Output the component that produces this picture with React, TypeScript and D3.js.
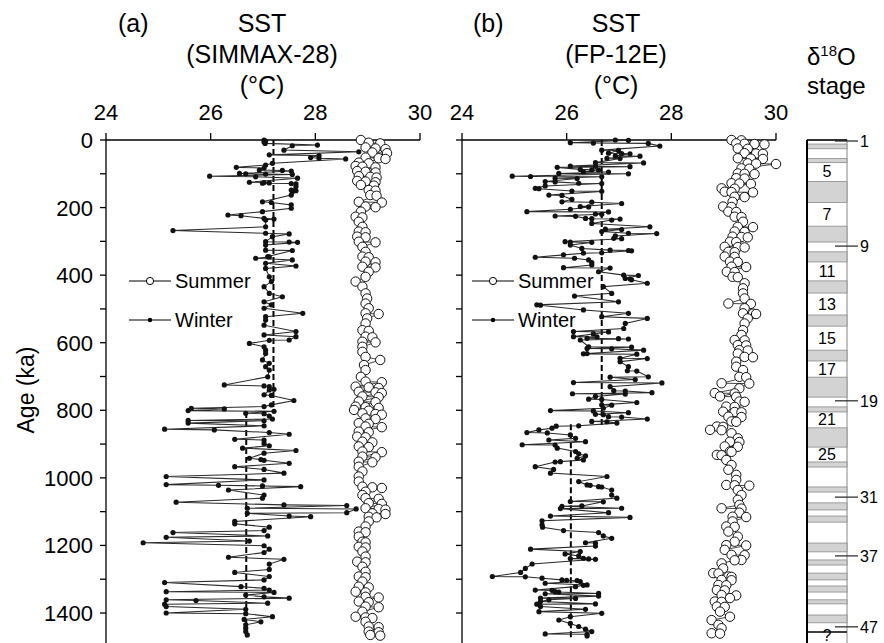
import React from "react";
import * as d3 from "d3";

// ---------- DATA (age ka, SST °C) ----------
const winterA: [number, number][] = [
  [0,27.02],[3,27.05],[6,27.02],[10,27.04],[15,28.04],[17,27.56],[30,27.40],[35,28.83],[44,27.12],[46,28.07],[52,27.91],[54,28.07],[56,28.58],[69,27.18],[74,27.05],[81,26.49],[83,27.02],[89,26.93],[90,27.37],[92,27.54],[99,26.55],[100,26.67],[101,27.05],[102,27.56],[107,25.98],[109,26.86],[113,27.66],[125,26.74],[126,27.02],[127,27.12],[128,26.99],[129,27.54],[130,27.63],[138,27.63],[148,27.54],[150,27.63],[153,27.56],[163,27.54],[183,26.99],[185,27.16],[192,27.54],[202,27.54],[212,26.99],[222,26.33],[224,26.58],[232,27.02],[234,27.21],[237,27.05],[257,27.05],[268,25.28],[276,27.05],[278,27.50],[286,27.18],[301,27.05],[302,27.50],[303,27.66],[311,27.05],[326,27.05],[327,27.56],[345,27.09],[346,27.12],[350,26.86],[355,27.56],[365,27.05],[373,27.63],[380,27.05],[405,27.12],[419,27.16],[434,27.02],[454,27.12],[464,27.37],[479,27.02],[488,27.16],[498,27.02],[513,27.76],[523,27.05],[533,27.05],[548,27.02],[567,27.63],[577,27.02],[582,27.63],[592,27.50],[593,27.12],[602,26.74],[612,27.02],[622,27.05],[632,27.05],[651,26.99],[661,27.12],[671,27.05],[681,27.12],[701,27.09],
  [725,26.26],[728,27.02],[730,27.12],[738,27.21],[740,27.12],[754,27.02],[756,27.16],[771,27.59],[784,27.16],[789,27.02],[794,25.63],[796,26.26],[801,25.57],[803,27.21],[809,26.67],[810,27.02],[817,27.12],[826,27.18],[830,25.57],[831,27.02],[838,25.57],[846,27.02],[856,25.12],[858,26.07],[866,27.12],[871,27.50],[886,26.46],[888,27.02],[898,27.02],[905,27.12],[912,26.61],[919,27.63],[927,27.02],[942,26.74],[946,26.96],[948,27.02],[957,27.50],[967,26.46],[975,27.02],[986,27.40],[996,25.15],[1006,27.02],[1020,25.15],[1022,26.15],[1024,26.99],[1026,27.72],[1036,26.34],[1051,27.02],[1060,26.99],[1072,25.34],[1080,27.40],[1082,28.60],[1090,26.70],[1092,28.78],[1103,28.60],[1105,26.70],[1113,27.50],[1115,27.91],[1129,26.46],[1136,26.46],[1146,27.12],[1156,27.02],[1162,25.28],[1172,27.09],[1176,25.15],[1187,26.74],[1192,24.71],[1201,27.02],[1211,27.12],[1221,27.02],[1235,26.34],[1241,27.40],[1255,27.12],[1271,27.12],[1280,26.46],[1292,27.12],[1302,27.02],[1310,25.12],[1322,26.58],[1327,27.02],[1332,27.12],[1337,25.15],[1339,27.21],[1347,26.67],[1352,27.02],[1356,27.50],[1361,25.15],[1363,25.72],[1371,27.09],[1374,25.12],[1381,25.15],[1389,26.67],[1400,25.15],[1402,26.67],[1411,27.18],[1419,26.64],[1426,26.96],[1435,26.67],[1445,26.67],[1455,26.67],[1465,26.70]
];

const summerA: [number, number][] = [
  [0,28.87],[8,29.02],[10,29.24],[22,28.96],[25,29.15],[27,29.34],[37,29.09],[39,29.37],[52,28.96],[54,29.21],[56,29.34],[67,28.83],[69,29.02],[77,28.77],[79,28.90],[81,29.15],[92,28.80],[94,28.96],[96,29.15],[107,28.83],[109,29.05],[111,29.17],[121,28.80],[123,28.96],[125,29.15],[133,28.87],[135,29.12],[148,29.02],[150,29.15],[163,29.05],[165,29.17],[183,28.83],[185,29.27],[197,28.96],[199,29.15],[212,28.87],[227,28.77],[229,28.90],[242,28.83],[257,28.90],[271,28.83],[273,28.96],[286,28.80],[288,28.96],[301,28.83],[303,29.15],[316,28.90],[331,28.96],[345,28.90],[347,29.02],[360,28.96],[362,29.15],[375,28.90],[377,29.15],[390,29.02],[405,28.96],[419,28.77],[434,28.90],[454,28.96],[469,28.99],[484,28.96],[498,29.02],[513,28.96],[515,29.21],[528,28.99],[543,28.96],[563,28.90],[565,29.02],[582,28.96],[584,29.09],[597,28.90],[599,29.15],[612,28.90],[627,28.90],[642,28.96],[651,29.24],[666,28.93],[681,28.96],[701,28.87],
  [715,28.96],[717,29.27],[730,28.77],[732,29.02],[734,29.21],[745,28.83],[747,29.15],[749,29.27],[759,28.90],[761,29.21],[774,28.83],[776,29.15],[789,28.77],[791,28.96],[793,29.21],[799,28.74],[801,29.02],[809,28.90],[811,29.15],[813,29.27],[824,28.96],[826,29.15],[838,28.83],[840,29.02],[848,28.96],[850,29.27],[863,28.83],[865,29.02],[878,28.80],[880,28.96],[893,28.90],[895,29.09],[907,28.83],[909,29.02],[922,28.90],[924,29.27],[937,28.90],[939,29.15],[952,28.83],[954,29.09],[967,28.83],[981,28.90],[996,28.83],[1011,28.83],[1026,28.90],[1028,29.09],[1030,29.27],[1041,28.96],[1051,28.90],[1060,28.96],[1062,29.21],[1075,29.02],[1077,29.27],[1090,28.96],[1092,29.21],[1094,29.34],[1105,29.09],[1107,29.34],[1115,29.02],[1117,29.17],[1129,29.02],[1144,28.96],[1159,28.83],[1161,28.96],[1174,28.83],[1189,28.90],[1191,28.96],[1204,28.83],[1206,28.96],[1218,28.90],[1233,28.96],[1248,28.80],[1250,28.96],[1263,28.90],[1278,28.96],[1292,28.83],[1294,28.96],[1307,28.90],[1322,28.83],[1324,29.02],[1337,28.77],[1339,28.96],[1352,28.96],[1354,29.21],[1366,28.83],[1368,29.02],[1381,28.96],[1383,29.21],[1396,28.90],[1411,28.77],[1413,28.96],[1415,29.09],[1426,28.96],[1440,29.02],[1442,29.21],[1455,29.02],[1457,29.21],[1465,29.05],[1467,29.24]
];

const winterB: [number, number][] = [
  [0,26.93],[1,27.18],[8,26.07],[9,26.51],[10,27.56],[18,27.78],[30,26.67],[31,26.99],[39,26.80],[40,27.05],[41,27.21],[47,26.93],[48,27.40],[54,26.77],[55,27.02],[67,26.55],[68,27.47],[77,26.07],[78,26.55],[79,27.21],[81,25.82],[87,26.26],[88,26.48],[89,26.61],[94,26.32],[95,26.80],[99,25.85],[100,27.18],[107,24.96],[108,25.31],[109,26.67],[113,25.78],[114,26.20],[123,25.59],[124,25.78],[128,26.23],[129,26.67],[136,25.59],[143,25.40],[144,25.47],[151,26.10],[152,26.67],[163,25.66],[164,25.91],[176,26.10],[183,25.91],[184,26.48],[188,27.05],[197,26.26],[198,26.42],[205,26.07],[212,25.24],[213,26.80],[219,26.55],[220,26.67],[225,25.78],[226,26.17],[232,26.36],[233,26.48],[234,27.02],[237,26.86],[247,26.48],[257,27.59],[264,26.74],[265,27.05],[271,26.67],[276,27.18],[277,27.72],[284,26.93],[291,26.90],[292,27.05],[301,25.97],[302,26.07],[303,26.48],[311,26.07],[321,26.29],[326,26.83],[327,27.18],[328,27.24],[334,26.67],[335,26.32],[340,25.94],[347,25.40],[350,26.15],[355,26.42],[363,26.48],[370,26.48],[378,25.94],[379,26.83],[390,26.61],[400,27.09],[401,27.37],[410,27.12],[411,27.21],[414,27.24],[424,27.54],[434,26.70],[454,26.86],[462,26.15],[479,26.99],[488,25.43],[489,25.50],[503,26.32],[513,27.18],[523,26.67],[528,27.54],[543,27.12],[558,27.09],[567,26.13],[568,26.80],[574,26.51],[582,26.13],[583,26.58],[587,26.39],[588,26.99],[589,27.18],[592,26.26],[612,26.42],[613,27.24],[617,26.39],[618,26.86],[622,27.47],[632,26.39],[633,26.32],[634,27.34],[646,27.02],[647,27.54],[656,27.02],[671,27.18],[683,27.16],[684,27.34],[701,27.56],[702,26.83],[709,27.31],
  [718,26.13],[719,27.82],[730,26.83],[742,26.90],[743,27.12],[748,27.63],[751,26.11],[752,27.12],[759,26.55],[767,26.42],[768,26.67],[777,27.34],[784,26.67],[785,26.86],[794,26.70],[801,25.69],[802,26.51],[807,27.18],[812,26.55],[813,26.70],[819,26.80],[820,27.05],[826,27.54],[833,26.48],[834,26.77],[838,26.96],[846,26.23],[847,25.80],[853,25.72],[858,25.47],[866,25.24],[867,25.63],[873,26.07],[883,26.17],[888,25.66],[893,26.36],[902,25.15],[903,25.78],[912,25.82],[922,26.17],[929,26.23],[935,26.36],[942,26.20],[947,26.32],[952,25.88],[953,25.78],[967,25.40],[975,25.75],[986,25.69],[996,26.77],[1011,26.23],[1021,26.39],[1022,26.45],[1026,26.61],[1027,26.67],[1036,26.86],[1051,26.86],[1060,26.96],[1070,26.07],[1071,26.70],[1083,26.29],[1084,25.91],[1090,27.05],[1091,25.88],[1103,26.80],[1113,25.69],[1117,27.21],[1127,25.53],[1139,25.53],[1146,25.54],[1156,25.94],[1162,26.61],[1172,26.70],[1179,26.86],[1192,26.36],[1193,26.55],[1202,26.55],[1211,25.31],[1218,26.26],[1225,25.97],[1231,26.23],[1238,26.32],[1239,26.07],[1240,26.42],[1241,26.55],[1255,25.34],[1268,25.21],[1280,25.12],[1292,24.58],[1293,25.21],[1297,25.53],[1302,25.91],[1303,26.00],[1304,26.20],[1307,26.26],[1312,25.59],[1317,26.39],[1318,26.32],[1322,26.17],[1332,25.40],[1333,25.72],[1337,25.78],[1338,25.85],[1342,26.61],[1343,25.59],[1350,26.61],[1356,25.50],[1357,26.17],[1361,25.66],[1366,25.50],[1373,26.55],[1374,25.43],[1381,25.50],[1389,26.36],[1396,25.47],[1401,26.67],[1411,26.07],[1421,25.85],[1431,26.07],[1440,26.23],[1448,26.36],[1455,26.48],[1462,25.59],[1463,26.39],[1468,26.39]
];

const summerB: [number, number][] = [
  [0,29.15],[1,29.34],[10,29.24],[11,29.40],[12,29.59],[13,29.78],[25,29.27],[26,29.46],[39,29.40],[40,29.62],[41,29.75],[54,29.27],[55,29.52],[56,29.75],[69,29.46],[70,29.62],[71,30.0],[84,29.34],[85,29.49],[99,29.27],[100,29.40],[101,29.59],[113,29.24],[114,29.40],[128,29.15],[129,29.30],[130,29.52],[143,28.96],[144,29.21],[153,29.02],[154,29.15],[155,29.56],[168,29.21],[169,29.40],[183,29.17],[197,28.99],[198,29.15],[212,29.09],[213,29.24],[227,29.21],[228,29.34],[242,29.37],[257,29.27],[258,29.56],[271,29.21],[272,29.40],[286,29.17],[287,29.34],[288,29.46],[301,29.12],[302,29.24],[316,29.02],[317,29.27],[318,29.40],[331,29.09],[332,29.21],[345,29.02],[346,29.21],[360,29.12],[361,29.27],[375,29.15],[376,29.43],[390,29.06],[391,29.21],[405,29.17],[406,29.27],[424,29.40],[439,29.37],[454,29.37],[469,29.40],[484,29.09],[485,29.52],[498,29.40],[513,29.37],[514,29.56],[515,29.62],[528,29.46],[543,29.40],[563,29.37],[577,29.34],[592,29.21],[593,29.40],[607,29.27],[608,29.43],[622,29.30],[623,29.46],[632,29.27],[642,29.40],[643,29.56],[656,29.24],[671,29.24],[681,29.37],[701,29.30],[702,29.43],
  [720,28.96],[721,29.49],[735,29.30],[749,28.83],[750,29.21],[759,28.93],[760,29.24],[774,29.30],[775,29.40],[789,29.05],[790,29.21],[804,28.99],[805,29.21],[806,29.34],[819,29.09],[820,29.34],[833,29.15],[834,29.24],[848,28.87],[849,28.99],[858,28.74],[859,28.96],[868,29.15],[883,29.27],[893,29.12],[894,29.30],[907,29.02],[908,29.27],[922,29.12],[923,29.15],[932,28.87],[933,28.96],[947,29.05],[962,29.15],[976,29.09],[991,29.24],[1006,29.24],[1021,29.05],[1022,29.21],[1023,29.49],[1036,29.27],[1051,29.34],[1065,29.27],[1080,29.30],[1090,28.96],[1091,29.34],[1103,29.30],[1115,29.17],[1116,29.43],[1129,29.17],[1144,29.05],[1145,29.21],[1159,29.09],[1174,29.27],[1189,29.21],[1199,29.05],[1200,29.43],[1213,29.02],[1228,29.15],[1229,29.40],[1243,29.34],[1244,29.21],[1253,28.96],[1268,28.99],[1282,28.80],[1283,28.90],[1292,29.09],[1293,29.15],[1302,28.96],[1303,29.15],[1317,28.90],[1318,29.05],[1332,28.87],[1333,29.02],[1347,28.96],[1348,29.24],[1356,29.12],[1366,28.83],[1367,28.96],[1381,28.87],[1382,29.02],[1396,28.93],[1411,29.12],[1421,28.77],[1435,28.90],[1445,28.96],[1460,28.77],[1461,28.93]
];

// mean winter SST segments: [value, fromKa, toKa]
const meanA: [number, number, number][] = [[27.2, 0, 805], [26.68, 805, 1472]];
const meanB: [number, number, number][] = [[26.67, 0, 849], [26.08, 841, 1472]];

const xTicks = [24, 26, 28, 30];
const yTicks = d3.range(0, 1501, 100);
const yLabels = [0, 200, 400, 600, 800, 1000, 1200, 1400];

// glacial (grey) stage intervals in ka
const glacials: [number, number][] = [
  [12, 26], [55, 67], [123, 185], [255, 302], [331, 361], [417, 453], [518, 551], [622, 654], [702, 761],
  [790, 805], [852, 909], [953, 968], [1027, 1042], [1074, 1095], [1113, 1131], [1193, 1219], [1243, 1258],
  [1282, 1302], [1320, 1338], [1361, 1373], [1406, 1429]
];
const stageInside: [number, string][] = [
  [92, "5"], [219, "7"], [388, "11"], [485, "13"], [586, "15"], [678, "17"], [826, "21"], [929, "25"], [1466, "?"]
];
const stageOutside: [number, string][] = [
  [3, "1"], [314, "9"], [772, "19"], [1057, "31"], [1231, "37"], [1441, "47"]
];
const stageEnd = 1456;

const FONT = "'Liberation Sans', Arial, Helvetica, sans-serif";

const y = d3.scaleLinear().domain([0, 1500]).range([140, 140 + (1500 * 473) / 1400]);

function Panel({ x0, x1, winter, summer, means, title, sub, tag, tagX, legendX }: any) {
  const x = d3.scaleLinear().domain([24, 30]).range([x0, x1]);
  const line = d3.line<[number, number]>().x((d) => x(d[1])).y((d) => y(d[0]));
  const w = d3.sort(winter, (d: [number, number]) => d[0]);
  const s = d3.sort(summer, (d: [number, number]) => d[0]);
  const tcx = title;
  return (
    <g>
      <text x={tagX} y={32} fontSize={25}>{tag}</text>
      <text x={tcx} y={32} fontSize={25} textAnchor="middle">SST</text>
      <text x={tcx} y={63} fontSize={25} textAnchor="middle">{sub}</text>
      <text x={tcx} y={94} fontSize={25} textAnchor="middle">(°C)</text>
      {/* top axis */}
      <line x1={x0} x2={x1} y1={140} y2={140} stroke="#000" strokeWidth={1.3} />
      {xTicks.map((t) => (
        <g key={t}>
          <line x1={x(t)} x2={x(t)} y1={133} y2={140} stroke="#000" strokeWidth={1.3} />
          <text x={x(t)} y={120} fontSize={22} textAnchor="middle">{t}</text>
        </g>
      ))}
      {/* left axis */}
      <line x1={x0} x2={x0} y1={140} y2={y(1500)} stroke="#000" strokeWidth={1.3} />
      {yTicks.map((t) => (
        <line key={t} x1={x0 - 6} x2={x0} y1={y(t)} y2={y(t)} stroke="#000" strokeWidth={1.3} />
      ))}
      {/* mean lines */}
      {means.map((m: [number, number, number], i: number) => (
        <line key={i} x1={x(m[0])} x2={x(m[0])} y1={y(m[1])} y2={y(m[2])} stroke="#000" strokeWidth={2} strokeDasharray="6,3" />
      ))}
      {/* winter */}
      <path d={line(w) || ""} fill="none" stroke="#2a2a2a" strokeWidth={1.05} />
      {w.map((d: [number, number], i: number) => (
        <circle key={i} cx={x(d[1])} cy={y(d[0])} r={2.6} fill="#111" />
      ))}
      {/* summer */}
      <path d={line(s) || ""} fill="none" stroke="#333" strokeWidth={0.9} />
      {s.map((d: [number, number], i: number) => (
        <circle key={i} cx={x(d[1])} cy={y(d[0])} r={4.7} fill="#fff" stroke="#111" strokeWidth={1} />
      ))}
      {/* legend */}
      <line x1={legendX} x2={legendX + 42} y1={281} y2={281} stroke="#000" strokeWidth={1} />
      <circle cx={legendX + 21} cy={281} r={3.6} fill="#fff" stroke="#000" strokeWidth={1} />
      <text x={legendX + 46} y={288} fontSize={20}>Summer</text>
      <line x1={legendX} x2={legendX + 42} y1={320} y2={320} stroke="#000" strokeWidth={1} />
      <circle cx={legendX + 21} cy={320} r={2.2} fill="#000" />
      <text x={legendX + 46} y={327} fontSize={20}>Winter</text>
    </g>
  );
}

export default function App() {
  const sx0 = 807;
  const sx1 = 847;
  return (
    <div style={{ position: "fixed", left: 0, top: 0 }}>
      <svg width={884} height={643} style={{ display: "block", background: "#fff" }} fontFamily={FONT}>
        <rect width={884} height={643} fill="#fff" />
        <Panel x0={106} x1={420} winter={winterA} summer={summerA} means={meanA} title={262} sub="(SIMMAX-28)" tag="(a)" tagX={118} legendX={129} />
        <Panel x0={462} x1={776} winter={winterB} summer={summerB} means={meanB} title={616} sub="(FP-12E)" tag="(b)" tagX={473} legendX={472} />
        <text x={34} y={390} fontSize={23} textAnchor="middle" transform="rotate(-90 34 390)">Age (ka)</text>
        {yLabels.map((t) => (
          <text key={t} x={93} y={y(t) + 8} fontSize={22} textAnchor="end">{t}</text>
        ))}
        {/* stage column */}
        <text x={807} y={65} fontSize={24}>δ<tspan fontSize={15} dy={-9}>18</tspan><tspan dy={9}>O</tspan></text>
        <text x={807} y={94} fontSize={24}>stage</text>
        <rect x={sx0} y={y(0)} width={sx1 - sx0} height={y(1500) - y(0)} fill="#fff" stroke="#888" strokeWidth={1} />
        {glacials.map((g, i) => (
          <rect key={i} x={sx0} y={y(g[0])} width={sx1 - sx0} height={y(g[1]) - y(g[0])} fill="#d3d3d3" stroke="#8a8a8a" strokeWidth={0.8} />
        ))}
        <line x1={sx0} x2={sx0} y1={y(0)} y2={y(1500)} stroke="#000" strokeWidth={2} />
        <line x1={sx0} x2={sx1} y1={y(0)} y2={y(0)} stroke="#000" strokeWidth={1.5} />
        <line x1={sx0} x2={sx1} y1={y(stageEnd)} y2={y(stageEnd)} stroke="#000" strokeWidth={1.5} />
        {stageInside.map(([k, l]) => (
          <text key={l} x={827} y={y(k) + 6} fontSize={16} textAnchor="middle">{l}</text>
        ))}
        {stageOutside.map(([k, l]) => (
          <g key={l}>
            <line x1={835} x2={858} y1={y(k)} y2={y(k)} stroke="#222" strokeWidth={1.2} />
            <text x={860} y={y(k) + 6} fontSize={16}>{l}</text>
          </g>
        ))}
      </svg>
    </div>
  );
}
